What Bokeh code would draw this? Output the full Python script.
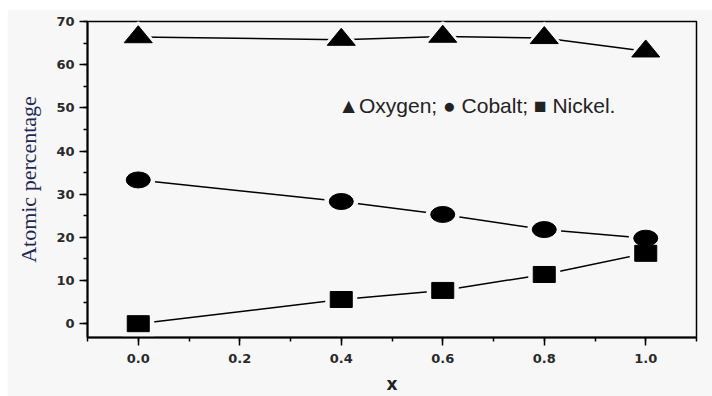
from bokeh.plotting import figure
from bokeh.models import Range1d, SingleIntervalTicker, Label, NumeralTickFormatter, Spacer
from bokeh.layouts import column, row
from bokeh.embed import file_html
from bokeh.resources import INLINE

# ---- data ----
x_values = [0.0, 0.4, 0.6, 0.8, 1.0]
oxygen = [66.4, 65.8, 66.5, 66.2, 63.1]
cobalt = [33.3, 28.3, 25.3, 21.8, 19.8]
nickel = [0.0, 5.6, 7.7, 11.4, 16.3]
legend_text = "\u25B2Oxygen; \u25CF Cobalt; \u25A0 Nickel."
x_label = "x"
y_label = "Atomic percentage"

# ---- layout ----
FIG_W, FIG_H = 705, 387
BL, BR, BT, BB = 80, 16, 12, 59
X0, X1 = -0.1, 1.1
Y0, Y1 = -3.2, 70.0
BG = "#f7f7f7"

p = figure(width=FIG_W, height=FIG_H, output_backend="svg", toolbar_location=None,
           x_range=Range1d(X0, X1), y_range=Range1d(Y0, Y1),
           min_border_left=BL, min_border_right=BR, min_border_top=BT, min_border_bottom=BB,
           background_fill_color=BG, border_fill_color=BG)
p.grid.visible = False
p.outline_line_color = "black"
p.outline_line_width = 1.5
p.outline_line_alpha = 1.0

# pixel scale (for marker shapes with non-square aspect)
px_x = (FIG_W - BL - BR) / (X1 - X0)
px_y = (FIG_H - BT - BB) / (Y1 - Y0)


def tri(xs, ys, w, h):
    pxs, pys = [], []
    for xc, yc in zip(xs, ys):
        dx = w / 2 / px_x
        pxs.append([xc - dx, xc, xc + dx])
        pys.append([yc - h / 3 / px_y, yc + 2 * h / 3 / px_y, yc - h / 3 / px_y])
    return pxs, pys


for ser in (oxygen, cobalt, nickel):
    p.line(x_values, ser, line_color="black", line_width=1.5)

# background "halos" giving the gap between line and marker
hx, hy = tri(x_values, oxygen, 40, 25)
p.patches(hx, hy, fill_color=BG, line_color=None)
p.ellipse(x_values, cobalt, width=34, height=26, width_units="screen", height_units="screen",
          fill_color=BG, line_color=None)
p.rect(x_values, nickel, width=32, height=26, width_units="screen", height_units="screen",
       fill_color=BG, line_color=None)

# markers
tx, ty = tri(x_values, oxygen, 28, 17)
p.patches(tx, ty, fill_color="black", line_color="black", line_width=1)
p.ellipse(x_values, cobalt, width=24, height=16, width_units="screen", height_units="screen",
          fill_color="black", line_color="black")
p.rect(x_values, nickel, width=22, height=16, width_units="screen", height_units="screen",
       fill_color="black", line_color="black")

# axes
p.xaxis.ticker = SingleIntervalTicker(interval=0.2, num_minor_ticks=2)
p.xaxis.formatter = NumeralTickFormatter(format="0.0")
p.yaxis.ticker = SingleIntervalTicker(interval=10, num_minor_ticks=2)
for ax in (p.xaxis[0], p.yaxis[0]):
    ax.axis_line_color = "black"
    ax.axis_line_width = 2
    ax.major_tick_line_color = "black"
    ax.major_tick_line_width = 1.5
    ax.minor_tick_line_color = "black"
    ax.minor_tick_line_width = 1.5
    ax.major_tick_in = 0
    ax.major_tick_out = 8
    ax.minor_tick_in = 0
    ax.minor_tick_out = 4
    ax.major_label_text_font = "DejaVu Sans"
    ax.major_label_text_font_style = "bold"
    ax.major_label_text_font_size = "13px"
    ax.major_label_text_color = "#2a2a2a"

p.yaxis.major_label_standoff = 5
p.xaxis.major_label_standoff = 8
p.yaxis.axis_label = y_label
p.yaxis.axis_label_text_font = "Liberation Serif"
p.yaxis.axis_label_text_font_style = "normal"
p.yaxis.axis_label_text_font_size = "22px"
p.yaxis.axis_label_text_color = "#1c2a52"
p.yaxis.axis_label_standoff = 12

p.xaxis.axis_label = x_label
p.xaxis.axis_label_text_font = "DejaVu Sans"
p.xaxis.axis_label_text_font_style = "bold"
p.xaxis.axis_label_text_font_size = "17px"
p.xaxis.axis_label_text_color = "#222222"
p.xaxis.axis_label_standoff = 8

p.add_layout(Label(x=0.394, y=50.6, text=legend_text, text_font="Liberation Sans",
                   text_font_size="21px", text_color="#222222", text_baseline="middle",
                   text_align="left"))

layout = column(Spacer(width=712, height=9), row(Spacer(width=7, height=FIG_H), p))

open("out.html", "w").write(file_html(layout, INLINE))
